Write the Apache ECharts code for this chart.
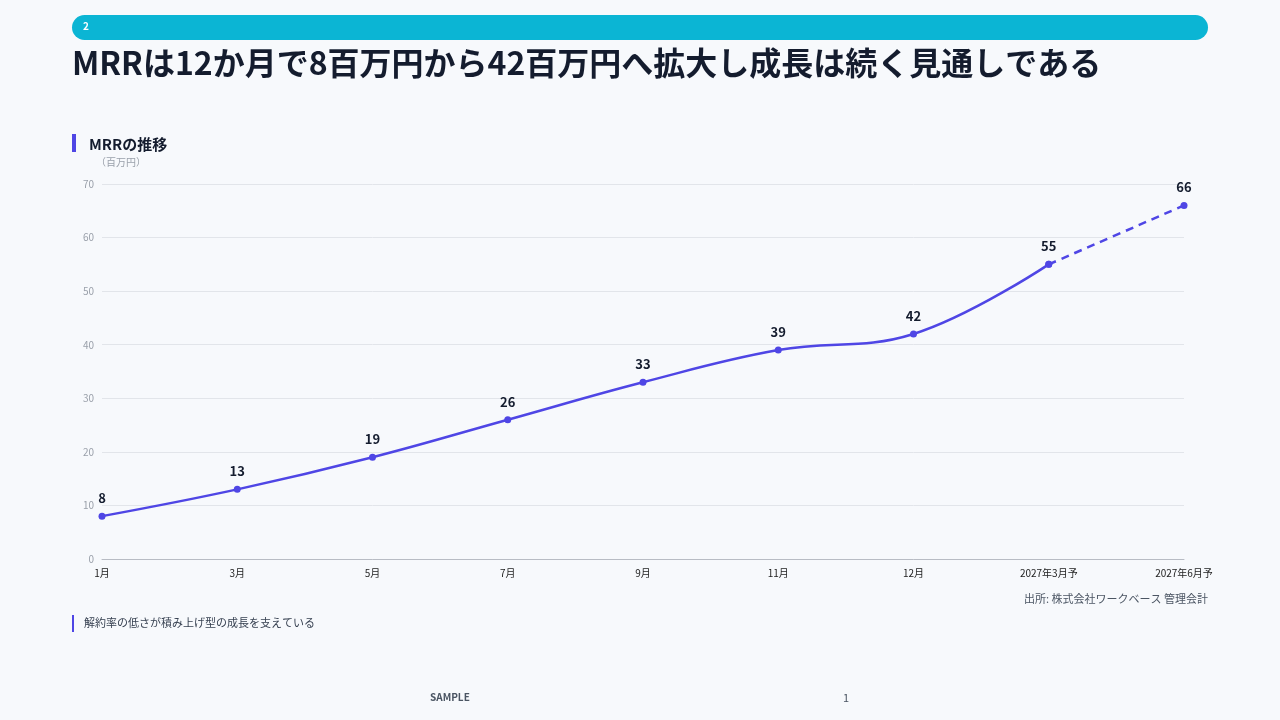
<!DOCTYPE html>
<html><head><meta charset="utf-8">
<script src="https://cdn.jsdelivr.net/npm/echarts@6/dist/echarts.min.js"></script>
<style>html,body{margin:0;padding:0;background:#f7f9fc;}#c{width:1280px;height:720px;}</style>
</head><body><div id="c"></div>
<script>
const categories = ['1月','3月','5月','7月','9月','11月','12月','2027年3月予','2027年6月予'];
const actualValues = [8,13,19,26,33,39,42,55,null];
const forecastValues = [null,null,null,null,null,null,null,55,66];
const yTicks = {min:0,max:70,interval:10};
const F = '"Noto Sans CJK JP","Noto Sans",sans-serif';
const chart = echarts.init(document.getElementById('c'));
chart.setOption({
  backgroundColor:'#f7f9fc',
  textStyle:{fontFamily:F},
  graphic:[
    {type:'rect',shape:{x:72,y:15,width:1136,height:25,r:12.5},style:{fill:'#0bb5d4'}},
    {type:'text',left:83,top:21,style:{text:'2',fill:'#fff',font:'bold 10px '+F}},
    {type:'text',left:72,top:47,style:{text:'MRRは12か月で8百万円から42百万円へ拡大し成長は続く見通しである',fill:'#141c2e',font:'bold 32px '+F}},
    {type:'rect',shape:{x:72,y:134,width:4,height:18},style:{fill:'#4f46e5'}},
    {type:'text',left:89,top:137,style:{text:'MRRの推移',fill:'#141c2e',font:'bold 15px '+F}},
    {type:'text',left:96,top:157,style:{text:'（百万円）',fill:'#9aa0aa',font:'10px '+F}},
    {type:'text',right:72,top:593,style:{text:'出所: 株式会社ワークベース 管理会計',fill:'#4b5563',font:'11px '+F}},
    {type:'rect',shape:{x:72,y:615,width:2,height:17},style:{fill:'#4f46e5'}},
    {type:'text',left:84,top:617,style:{text:'解約率の低さが積み上げ型の成長を支えている',fill:'#374151',font:'11px '+F}},
    {type:'text',left:430,top:692,style:{text:'SAMPLE',fill:'#4b5563',font:'bold 10px '+F}},
    {type:'text',left:843,top:692,style:{text:'1',fill:'#4b5563',font:'11px '+F}}
  ],
  grid:{left:102,right:96,top:184,bottom:161,containLabel:false},
  xAxis:{type:'category',data:categories,boundaryGap:false,
    axisLine:{lineStyle:{color:'#b8bcc4'}},axisTick:{show:false},
    axisLabel:{color:'#222',fontSize:10,margin:9,interval:0}},
  yAxis:{type:'value',min:yTicks.min,max:yTicks.max,interval:yTicks.interval,
    axisLabel:{color:'#9aa0aa',fontSize:10,margin:8},
    splitLine:{lineStyle:{color:'#e2e5ea'}},axisLine:{show:false}},
  series:[
    {type:'line',data:actualValues,smooth:0.4,symbol:'circle',symbolSize:7,
     lineStyle:{color:'#4f46e5',width:2.5},itemStyle:{color:'#4f46e5'},
     label:{show:true,position:'top',distance:8,color:'#141c2e',fontWeight:'bold',fontSize:13}},
    {type:'line',data:forecastValues,smooth:0.4,symbol:'circle',symbolSize:7,
     lineStyle:{color:'#4f46e5',width:2.5,type:[8,6]},itemStyle:{color:'#4f46e5'},
     label:{show:true,position:'top',distance:8,color:'#141c2e',fontWeight:'bold',fontSize:13,
       formatter:p=>p.dataIndex===forecastValues.length-1?p.value:''}}
  ]
});
</script></body></html>
